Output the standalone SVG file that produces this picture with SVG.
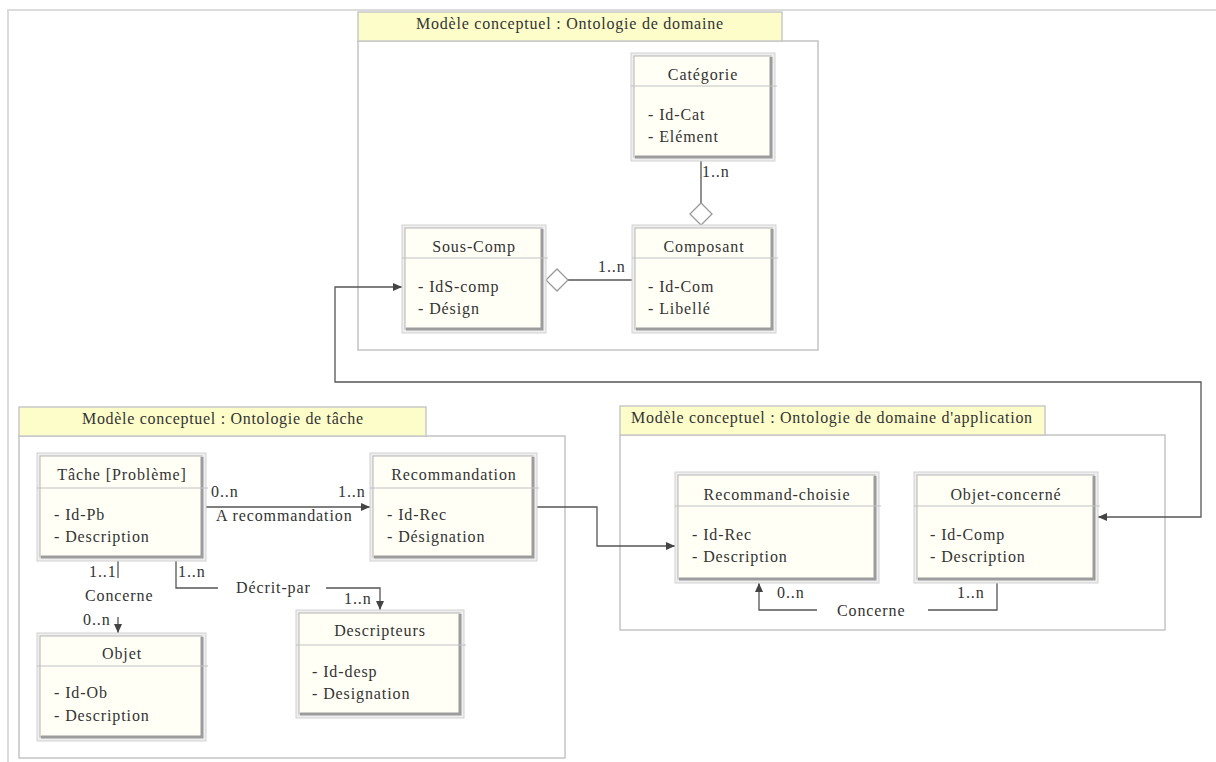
<svg xmlns="http://www.w3.org/2000/svg" width="1216" height="762" viewBox="0 0 1216 762">
<style>
.t{font-family:"Liberation Serif","Times New Roman",serif;font-size:16px;fill:#333333;letter-spacing:0.9px}
.tab{fill:#fdfdca;stroke:#c8c8c8;stroke-width:1.5}
.pkg{fill:#ffffff;stroke:#c4c4c4;stroke-width:1.5}
.bo{fill:#eeeeee;stroke:#d2d2d2;stroke-width:1}
.bi{fill:#fffff6;stroke:#b4b4b4;stroke-width:1}
.sh{fill:none;stroke:#9c9c9c;stroke-width:3}
.dv{stroke:#c2c2c2;stroke-width:1.2}
.c{fill:none;stroke:#555555;stroke-width:1.3}
.mid{text-anchor:middle}
</style>
<defs>
<marker id="arr" markerUnits="userSpaceOnUse" markerWidth="9" markerHeight="8" refX="9" refY="4" orient="auto-start-reverse">
<path d="M0,0 L9,4 L0,8 z" fill="#444444"/>
</marker>
<marker id="dia" markerUnits="userSpaceOnUse" markerWidth="24" markerHeight="24" refX="1" refY="12" orient="auto">
<path d="M1,12 L12,1 L23,12 L12,23 z" fill="#ffffff" stroke="#9a9a9a" stroke-width="1.3"/>
</marker>
</defs>
<rect x="0" y="0" width="1216" height="762" fill="#ffffff"/>
<g id="frame">
<path d="M8,762 V10 H1216" fill="none" stroke="#dcdcdc" stroke-width="2"/>
</g>
<g id="pkg-domaine">
<rect class="pkg" x="358" y="41" width="460" height="309"/>
<rect class="tab" x="358" y="12" width="424" height="29"/>
<text class="t mid" x="570" y="29" textLength="308" lengthAdjust="spacing">Modèle conceptuel : Ontologie de domaine</text>
</g>
<g id="pkg-tache">
<rect class="pkg" x="19" y="436" width="546" height="322"/>
<rect class="tab" x="19" y="407" width="407" height="29"/>
<text class="t mid" x="223" y="424" textLength="282" lengthAdjust="spacing">Modèle conceptuel : Ontologie de tâche</text>
</g>
<g id="pkg-application">
<rect class="pkg" x="620" y="435" width="545" height="195"/>
<rect class="tab" x="620" y="406" width="425" height="29"/>
<text class="t mid" x="832" y="423" textLength="402" lengthAdjust="spacing">Modèle conceptuel : Ontologie de domaine d'application</text>
</g>
<g id="connectors">
<path class="c" d="M546,280 H632" marker-start="url(#dia)"/>
<path class="c" d="M701,225 V161" marker-start="url(#dia)"/>
<path class="c" d="M1098,517 H1201 V382 H335 V287 H402" marker-start="url(#arr)" marker-end="url(#arr)"/>
<path class="c" d="M206,507 H370" marker-end="url(#arr)"/>
<path class="c" d="M537,507 H597 V546 H675" marker-end="url(#arr)"/>
<path class="c" d="M118,560 V578"/>
<path class="c" d="M118,617 V633" marker-end="url(#arr)"/>
<path class="c" d="M176,560 V588 H218"/>
<path class="c" d="M326,588 H380 V610" marker-end="url(#arr)"/>
<path class="c" d="M997,583 V610 H928"/>
<path class="c" d="M817,610 H759 V583" marker-end="url(#arr)"/>
<text class="t" x="702" y="177">1..n</text>
<text class="t" x="598" y="272">1..n</text>
<text class="t" x="211" y="497">0..n</text>
<text class="t" x="338" y="497">1..n</text>
<text class="t" x="216" y="521">A recommandation</text>
<text class="t" x="89" y="577">1..1</text>
<text class="t" x="85" y="601">Concerne</text>
<text class="t" x="83" y="625">0..n</text>
<text class="t" x="178" y="577">1..n</text>
<text class="t" x="236" y="593">Décrit-par</text>
<text class="t" x="344" y="604">1..n</text>
<text class="t" x="777" y="598">0..n</text>
<text class="t" x="957" y="598">1..n</text>
<text class="t" x="837" y="616">Concerne</text>
</g>
<g id="categorie">
<rect class="bo" x="631" y="53" width="144" height="108"/>
<rect class="bi" x="634" y="56" width="137" height="101"/>
<path class="sh" d="M771,57 V157 H635"/>
<line class="dv" x1="631" y1="86" x2="777" y2="86"/>
<text class="t mid" x="703" y="80">Catégorie</text>
<text class="t" x="648" y="120">- Id-Cat</text>
<text class="t" x="648" y="142">- Elément</text>
</g>
<g id="sous-comp">
<rect class="bo" x="402" y="225" width="144" height="108"/>
<rect class="bi" x="405" y="228" width="137" height="101"/>
<path class="sh" d="M542,229 V329 H406"/>
<line class="dv" x1="402" y1="258" x2="548" y2="258"/>
<text class="t mid" x="474" y="252">Sous-Comp</text>
<text class="t" x="418" y="292">- IdS-comp</text>
<text class="t" x="418" y="314">- Désign</text>
</g>
<g id="composant">
<rect class="bo" x="632" y="225" width="144" height="108"/>
<rect class="bi" x="635" y="228" width="137" height="101"/>
<path class="sh" d="M772,229 V329 H636"/>
<line class="dv" x1="632" y1="258" x2="778" y2="258"/>
<text class="t mid" x="704" y="252">Composant</text>
<text class="t" x="648" y="292">- Id-Com</text>
<text class="t" x="648" y="314">- Libellé</text>
</g>
<g id="tache">
<rect class="bo" x="37" y="453" width="169" height="108"/>
<rect class="bi" x="40" y="456" width="162" height="101"/>
<path class="sh" d="M202,457 V557 H41"/>
<line class="dv" x1="37" y1="488" x2="208" y2="488"/>
<text class="t mid" x="122" y="480">Tâche [Problème]</text>
<text class="t" x="54" y="520">- Id-Pb</text>
<text class="t" x="54" y="542">- Description</text>
</g>
<g id="recommandation">
<rect class="bo" x="370" y="453" width="167" height="108"/>
<rect class="bi" x="373" y="456" width="160" height="101"/>
<path class="sh" d="M533,457 V557 H374"/>
<line class="dv" x1="370" y1="488" x2="539" y2="488"/>
<text class="t mid" x="454" y="480">Recommandation</text>
<text class="t" x="387" y="520">- Id-Rec</text>
<text class="t" x="387" y="542">- Désignation</text>
</g>
<g id="objet">
<rect class="bo" x="37" y="633" width="169" height="108"/>
<rect class="bi" x="40" y="636" width="162" height="101"/>
<path class="sh" d="M202,637 V737 H41"/>
<line class="dv" x1="37" y1="666" x2="208" y2="666"/>
<text class="t mid" x="122" y="659">Objet</text>
<text class="t" x="54" y="698">- Id-Ob</text>
<text class="t" x="54" y="721">- Description</text>
</g>
<g id="descripteurs">
<rect class="bo" x="296" y="610" width="168" height="108"/>
<rect class="bi" x="299" y="613" width="161" height="101"/>
<path class="sh" d="M460,614 V714 H300"/>
<line class="dv" x1="296" y1="645" x2="466" y2="645"/>
<text class="t mid" x="380" y="636">Descripteurs</text>
<text class="t" x="312" y="677">- Id-desp</text>
<text class="t" x="312" y="699">- Designation</text>
</g>
<g id="recommand-choisie">
<rect class="bo" x="675" y="472" width="204" height="111"/>
<rect class="bi" x="678" y="475" width="197" height="104"/>
<path class="sh" d="M875,476 V579 H679"/>
<line class="dv" x1="675" y1="506" x2="881" y2="506"/>
<text class="t mid" x="777" y="500">Recommand-choisie</text>
<text class="t" x="692" y="540">- Id-Rec</text>
<text class="t" x="692" y="562">- Description</text>
</g>
<g id="objet-concerne">
<rect class="bo" x="914" y="472" width="184" height="111"/>
<rect class="bi" x="917" y="475" width="177" height="104"/>
<path class="sh" d="M1094,476 V579 H918"/>
<line class="dv" x1="914" y1="506" x2="1100" y2="506"/>
<text class="t mid" x="1006" y="500">Objet-concerné</text>
<text class="t" x="930" y="540">- Id-Comp</text>
<text class="t" x="930" y="562">- Description</text>
</g>
</svg>
